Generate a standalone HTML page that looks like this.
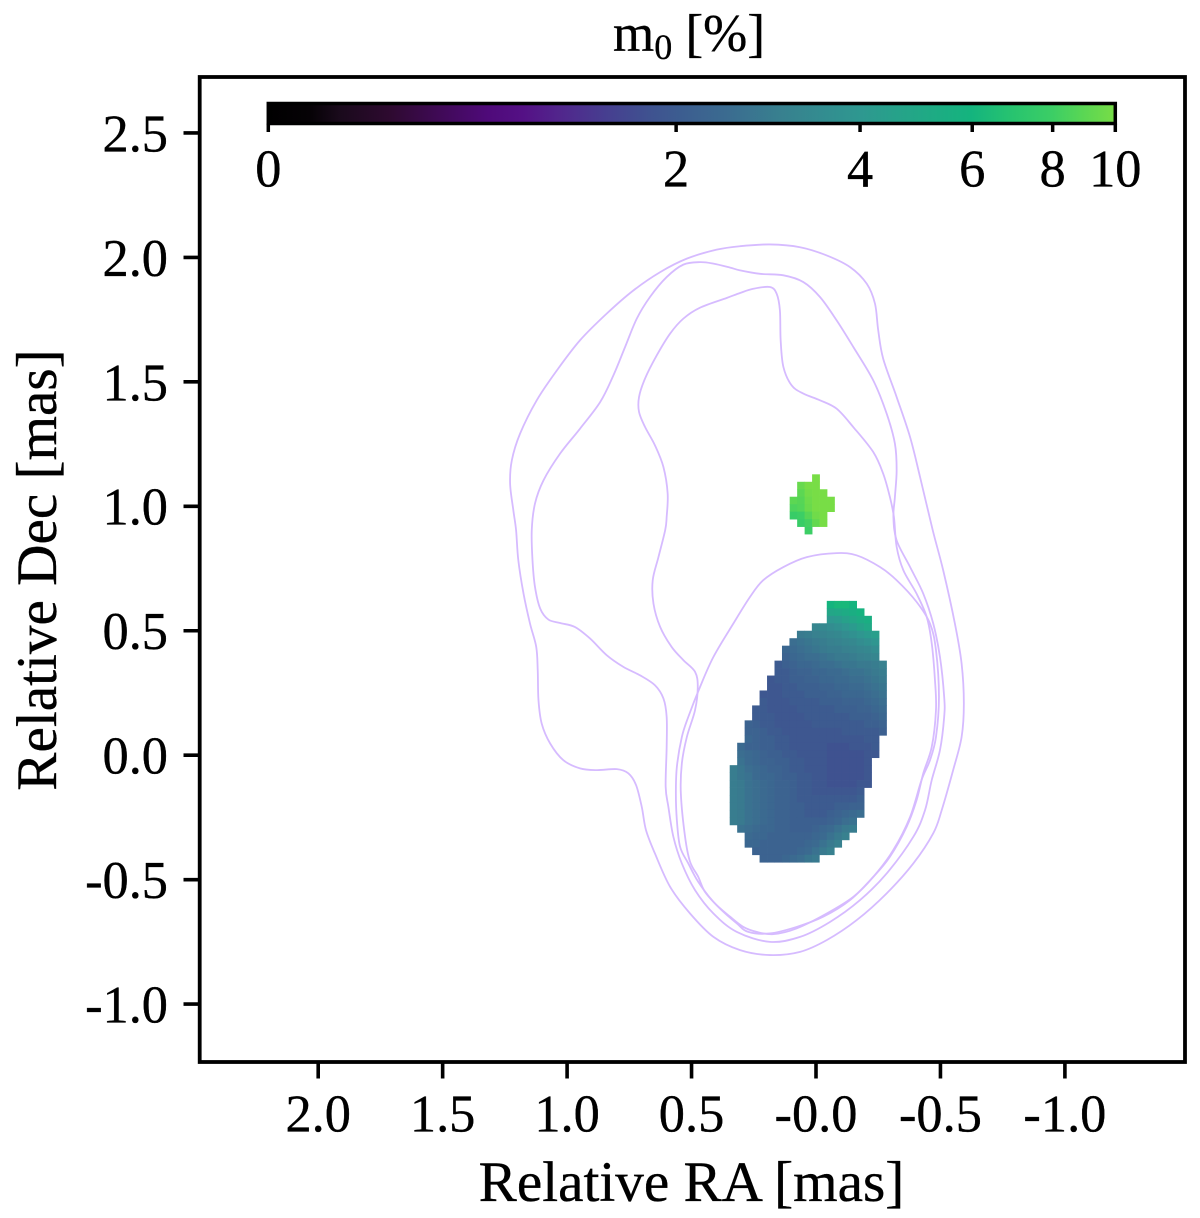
<!DOCTYPE html>
<html lang="en">
<head>
<meta charset="utf-8">
<title>m0 map</title>
<style>
html,body{margin:0;padding:0;background:#fff;}
svg{display:block;font-family:"Liberation Serif","Times New Roman",serif;fill:#000;}
text{stroke:#000;stroke-width:.35;}
</style>
</head>
<body>
<svg id="chart" xmlns="http://www.w3.org/2000/svg" width="1200" height="1218" viewBox="0 0 1200 1218">
  <defs>
    <linearGradient id="cmap-gradient" x1="0" y1="0" x2="1" y2="0"></linearGradient>
  </defs>
  <rect x="0" y="0" width="1200" height="1218" fill="#fff"></rect>
  <g id="heat"></g>
  <g id="contours"></g>
  <g id="axes"></g>
  <g id="cbar"></g>
  <text x="689" y="51" text-anchor="middle" font-size="53">m<tspan font-size="36" dy="8">0</tspan><tspan dy="-8"> [%]</tspan></text>
  <text x="691.5" y="1201" text-anchor="middle" font-size="57.2">Relative RA [mas]</text>
  <text x="0" y="0" transform="translate(56,570) rotate(-90)" text-anchor="middle" font-size="57.2">Relative Dec [mas]</text>
</svg>
<script>
const raTicks = [2, 1.5, 1, 0.5, 0, -0.5, -1];
const raTickLabels = ["2.0", "1.5", "1.0", "0.5", "-0.0", "-0.5", "-1.0"];
const decTicks = [2.5, 2, 1.5, 1, 0.5, 0, -0.5, -1];
const decTickLabels = ["2.5", "2.0", "1.5", "1.0", "0.5", "0.0", "-0.5", "-1.0"];
const colorbarTicks = [0, 2, 4, 6, 8, 10];
const colorbarTickLabels = ["0", "2", "4", "6", "8", "10"];
const cmapFractions = [0, 0.05, 0.085, 0.144, 0.2, 0.26, 0.3, 0.34, 0.4, 0.45, 0.49, 0.54, 0.604, 0.7, 0.76, 0.83, 0.88, 0.926, 0.96, 1];
const cmapColors = ["#000000", "#060206", "#1a0a1c", "#2e0a30", "#3f0a55", "#4f0a7a", "#541085", "#52248c", "#463f90", "#3f5290", "#3c5e90", "#3b6b90", "#38808f", "#2e9890", "#23a687", "#14b47e", "#28c46f", "#3cce65", "#58d655", "#78dd46"];

const _ = null;
const coreGridRa = 0.3467;
const coreGridDec = 0.62;
const gridStep = 0.03;
const coreValues = [
[_,_,_,_,_,_,_,_,_,_,_,_,_,6.0,6.2,6.2,6.0],
[_,_,_,_,_,_,_,_,_,_,_,_,_,4.8,5.0,5.2,5.5,5.8],
[_,_,_,_,_,_,_,_,_,_,_,_,_,4.0,4.2,4.5,4.8,5.2,5.5],
[_,_,_,_,_,_,_,_,_,_,_,3.2,3.3,3.5,3.7,3.9,4.2,4.6,5.0],
[_,_,_,_,_,_,_,_,_,2.8,2.9,3.0,3.1,3.2,3.3,3.5,3.7,3.9,4.2,4.4],
[_,_,_,_,_,_,_,_,2.5,2.6,2.7,2.8,2.9,3.0,3.1,3.2,3.3,3.5,3.7,3.9],
[_,_,_,_,_,_,_,2.3,2.4,2.5,2.6,2.7,2.8,2.9,2.9,3.0,3.1,3.2,3.3,3.5],
[_,_,_,_,_,_,_,2.2,2.3,2.4,2.5,2.5,2.6,2.7,2.8,2.8,2.9,3.0,3.1,3.2],
[_,_,_,_,_,_,2.0,2.1,2.2,2.3,2.3,2.4,2.5,2.5,2.6,2.7,2.7,2.8,2.8,2.9,3.0],
[_,_,_,_,_,_,2.0,2.0,2.1,2.2,2.2,2.3,2.3,2.4,2.4,2.5,2.6,2.6,2.7,2.8,2.9],
[_,_,_,_,_,1.9,2.0,2.0,2.1,2.1,2.2,2.2,2.3,2.3,2.4,2.4,2.5,2.5,2.6,2.7,2.8],
[_,_,_,_,_,1.9,1.9,2.0,2.0,2.1,2.1,2.1,2.2,2.2,2.3,2.3,2.4,2.4,2.5,2.6,2.7],
[_,_,_,_,1.9,1.9,1.9,2.0,2.0,2.0,2.1,2.1,2.1,2.2,2.2,2.3,2.3,2.3,2.4,2.5,2.6],
[_,_,_,_,2.0,1.9,1.9,1.9,2.0,2.0,2.0,2.0,2.1,2.1,2.1,2.2,2.2,2.2,2.3,2.4,2.5],
[_,_,_,2.0,2.0,1.9,1.9,1.9,1.9,2.0,2.0,2.0,2.0,2.0,2.1,2.1,2.1,2.2,2.2,2.3,2.4],
[_,_,_,2.0,2.0,2.0,1.9,1.9,1.9,1.9,2.0,2.0,2.0,2.0,2.0,2.0,2.1,2.1,2.1,2.2,2.3],
[_,_,2.2,2.1,2.0,2.0,1.9,1.9,1.9,1.9,1.9,2.0,2.0,2.0,2.0,2.0,2.0,2.0,2.1,2.1,2.2],
[_,_,2.2,2.2,2.1,2.0,2.0,1.9,1.9,1.9,1.9,1.9,1.9,1.9,1.9,2.0,2.0,2.0,2.0,2.0,2.1],
[_,_,2.3,2.2,2.1,2.1,2.0,2.0,1.9,1.9,1.9,1.9,1.9,1.9,1.9,1.9,1.9,1.9,2.0,2.0],
[_,2.4,2.2,2.2,2.1,2.1,2.0,2.0,1.9,1.9,1.9,1.9,1.9,1.8,1.8,1.8,1.9,1.9,1.9,2.0],
[_,2.5,2.4,2.3,2.2,2.1,2.1,2.0,2.0,1.9,1.9,1.9,1.9,1.8,1.8,1.8,1.8,1.8,1.9,1.9],
[_,2.6,2.4,2.3,2.2,2.2,2.1,2.1,2.0,2.0,1.9,1.9,1.9,1.8,1.8,1.8,1.8,1.8,1.9],
[2.9,2.7,2.5,2.4,2.3,2.2,2.2,2.1,2.0,2.0,1.9,1.9,1.9,1.8,1.8,1.8,1.8,1.8,1.9],
[2.9,2.7,2.6,2.4,2.3,2.3,2.2,2.1,2.1,2.0,2.0,1.9,1.9,1.8,1.8,1.8,1.8,1.8,1.9],
[2.9,2.8,2.6,2.5,2.4,2.3,2.2,2.2,2.1,2.0,2.0,1.9,1.9,1.8,1.8,1.8,1.8,1.9,1.9],
[2.9,2.8,2.6,2.5,2.4,2.3,2.2,2.2,2.1,2.0,2.0,1.9,1.9,1.9,1.9,1.9,1.9,2.0],
[2.9,2.8,2.6,2.5,2.4,2.3,2.2,2.2,2.1,2.0,2.0,2.0,2.0,2.0,2.0,2.0,2.0,2.1],
[2.9,2.8,2.6,2.5,2.4,2.3,2.2,2.2,2.1,2.1,2.0,2.0,2.0,2.0,2.1,2.1,2.2,2.2],
[2.9,2.8,2.6,2.5,2.4,2.3,2.2,2.2,2.1,2.1,2.0,2.0,2.0,2.1,2.2,2.3,2.4,2.5],
[2.9,2.8,2.6,2.5,2.4,2.3,2.2,2.2,2.1,2.1,2.1,2.1,2.1,2.2,2.3,2.5,2.6],
[_,2.6,2.5,2.4,2.3,2.3,2.2,2.2,2.1,2.1,2.1,2.2,2.3,2.4,2.6,2.8,2.9],
[_,_,2.4,2.3,2.3,2.2,2.2,2.2,2.2,2.2,2.2,2.3,2.4,2.6,2.8,3.0],
[_,_,2.3,2.3,2.2,2.2,2.2,2.2,2.2,2.2,2.3,2.4,2.6,2.8,3.0],
[_,_,_,2.2,2.2,2.2,2.2,2.2,2.2,2.3,2.4,2.6,2.8,3.0],
[_,_,_,_,2.2,2.2,2.2,2.3,2.4,2.5,2.7,2.8]
];

const knotGridRa = 0.1057;
const knotGridDec = 1.1285;
const knotValues = [
[_,_,_,10],
[_,9.4,10,10],
[_,9.0,9.8,10,10],
[9.0,8.8,9.6,10,10,10],
[8.5,8.7,9.5,10,10,10],
[7.8,8.0,8.8,9.7,10],
[_,7.8,8.2,9.2,10],
[_,_,8.0]
];

const contourOuter = [[.185,2.052],[.305,2.045],[.399,2.031],[.519,1.995],[.626,1.941],[.734,1.867],[.841,1.774],[.948,1.667],[1.041,1.546],[1.122,1.426],[1.189,1.292],[1.222,1.185],[1.229,1.091],[1.216,.984],[1.205,.904],[1.196,.783],[1.175,.649],[1.149,.529],[1.124,.435],[1.118,.341],[1.115,.221],[1.102,.127],[1.068,.047],[1.015,-.020],[.948,-.053],[.881,-.060],[.800,-.056],[.754,-.073],[.723,-.120],[.700,-.208],[.683,-.301],[.647,-.395],[.586,-.529],[.506,-.636],[.412,-.730],[.305,-.783],[.185,-.803],[.064,-.790],[-.043,-.743],[-.163,-.663],[-.284,-.555],[-.391,-.435],[-.471,-.314],[-.505,-.221],[-.551,-.060],[-.585,.073],[-.594,.208],[-.585,.368],[-.558,.529],[-.511,.743],[-.469,.904],[-.418,1.118],[-.378,1.278],[-.324,1.439],[-.270,1.593],[-.250,1.707],[-.237,1.814],[-.204,1.894],[-.137,1.961],[-.043,2.008],[.064,2.041]];
const contourMiddle = [[.466,1.981],[.533,1.971],[.600,1.921],[.667,1.841],[.720,1.754],[.767,1.640],[.814,1.526],[.867,1.419],[.948,1.312],[1.028,1.212],[1.095,1.104],[1.129,1.011],[1.142,.904],[1.139,.783],[1.129,.676],[1.108,.589],[1.075,.545],[1.028,.531],[.968,.515],[.908,.469],[.841,.402],[.774,.355],[.707,.321],[.647,.281],[.613,.228],[.600,.154],[.600,.033],[.604,-.127],[.593,-.208],[.573,-.328],[.539,-.435],[.486,-.542],[.412,-.636],[.318,-.710],[.185,-.750],[.064,-.730],[-.056,-.670],[-.177,-.582],[-.284,-.475],[-.391,-.328],[-.438,-.221],[-.465,-.100],[-.498,.020],[-.515,.154],[-.515,.234],[-.498,.395],[-.471,.529],[-.431,.649],[-.378,.756],[-.324,.863],[-.311,.957],[-.317,1.037],[-.324,1.145],[-.317,1.252],[-.284,1.372],[-.230,1.506],[-.150,1.640],[-.083,1.747],[-.016,1.841],[.051,1.901],[.131,1.928],[.225,1.934],[.305,1.948],[.345,1.959],[.412,1.975]];
const contourInner = [[.185,1.881],[.252,1.874],[.305,1.857],[.359,1.837],[.466,1.798],[.533,1.754],[.586,1.694],[.640,1.606],[.687,1.513],[.711,1.439],[.711,1.379],[.687,1.319],[.647,1.245],[.613,1.158],[.596,1.051],[.600,.957],[.606,.904],[.633,.796],[.656,.703],[.653,.609],[.626,.515],[.580,.435],[.533,.382],[.486,.335],[.475,.274],[.486,.181],[.519,.073],[.539,-.033],[.543,-.154],[.526,-.328],[.506,-.428],[.473,-.489],[.446,-.549],[.386,-.616],[.318,-.676],[.272,-.710],[.185,-.716],[.078,-.690],[-.029,-.649],[-.137,-.582],[-.230,-.489],[-.297,-.408],[-.364,-.288],[-.404,-.181],[-.431,-.073],[-.465,.033],[-.482,.181],[-.478,.301],[-.465,.449],[-.445,.555],[-.404,.649],[-.351,.743],[-.324,.837],[-.313,.957],[-.297,1.037],[-.270,1.131],[-.230,1.218],[-.150,1.318],[-.083,1.392],[-.016,1.426],[.051,1.453],[.098,1.486],[.131,1.560],[.142,1.667],[.145,1.787],[.158,1.854]];
const contourCore = [[-.083,.812],[.037,.796],[.131,.756],[.212,.703],[.265,.636],[.332,.529],[.412,.395],[.466,.274],[.513,.154],[.539,.073],[.559,-.047],[.563,-.154],[.559,-.261],[.546,-.368],[.513,-.435],[.473,-.509],[.412,-.589],[.345,-.649],[.292,-.690],[.238,-.710],[.171,-.719],[.078,-.696],[-.043,-.636],[-.150,-.569],[-.230,-.489],[-.310,-.382],[-.378,-.248],[-.424,-.100],[-.458,-.020],[-.482,.073],[-.494,.234],[-.482,.422],[-.458,.529],[-.404,.616],[-.324,.703],[-.257,.756],[-.163,.803]];

const NS = "http://www.w3.org/2000/svg";
const frameLeft = 199.7, frameRight = 1185, frameTop = 77, frameBottom = 1062;
const pxPerMas = 248.9;
const barLeft = 268.3, barRight = 1115.3, barTop = 103.5, barBottom = 123.5;

function xScale(ra) { return 816 - ra * pxPerMas; }
function yScale(dec) { return 755.2 - dec * pxPerMas; }
function normFraction(v) { return Math.asinh(Math.max(v, 0)) / Math.asinh(10); }
function barScale(v) { return barLeft + normFraction(v) * (barRight - barLeft); }

function hexToRgb(h) {
  return [parseInt(h.slice(1, 3), 16), parseInt(h.slice(3, 5), 16), parseInt(h.slice(5, 7), 16)];
}
function colorFor(v) {
  const f = Math.min(1, Math.max(0, normFraction(v)));
  let i = 0;
  while (i < cmapFractions.length - 2 && f > cmapFractions[i + 1]) i++;
  const t = (f - cmapFractions[i]) / (cmapFractions[i + 1] - cmapFractions[i]);
  const a = hexToRgb(cmapColors[i]), b = hexToRgb(cmapColors[i + 1]);
  return "rgb(" + a.map(function (c, k) { return Math.round(c + (b[k] - c) * t); }).join(",") + ")";
}
function make(parent, tag, attrs, text) {
  const el = document.createElementNS(NS, tag);
  Object.keys(attrs).forEach(function (k) { el.setAttribute(k, attrs[k]); });
  if (text !== undefined) el.textContent = text;
  parent.appendChild(el);
  return el;
}

/* heatmap */
const heat = document.getElementById("heat");
function drawGrid(values, ra0, dec0, label) {
  values.forEach(function (row, r) {
    row.forEach(function (v, c) {
      if (v === null || v === undefined) return;
      const x0 = xScale(ra0 - c * gridStep);
      const x1 = xScale(ra0 - (c + 1) * gridStep);
      const y0 = yScale(dec0 - r * gridStep);
      const y1 = yScale(dec0 - (r + 1) * gridStep);
      const cell = make(heat, "rect", {
        x: x0.toFixed(2), y: y0.toFixed(2),
        width: (x1 - x0 + 0.35).toFixed(2), height: (y1 - y0 + 0.35).toFixed(2),
        fill: colorFor(v)
      });
      
      
    });
  });
}
drawGrid(coreValues, coreGridRa, coreGridDec, "core-heatmap-cell");
drawGrid(knotValues, knotGridRa, knotGridDec, "knot-heatmap-cell");

/* contours */
const contourGroup = document.getElementById("contours");
function closedSmoothPath(points) {
  const p = points.map(function (d) { return [xScale(d[0]), yScale(d[1])]; });
  const n = p.length;
  let s = "M" + p[0][0].toFixed(2) + " " + p[0][1].toFixed(2);
  for (let i = 0; i < n; i++) {
    const a = p[(i - 1 + n) % n], b = p[i], c = p[(i + 1) % n], d = p[(i + 2) % n];
    s += "C" + (b[0] + (c[0] - a[0]) / 6).toFixed(2) + " " + (b[1] + (c[1] - a[1]) / 6).toFixed(2) +
      " " + (c[0] - (d[0] - b[0]) / 6).toFixed(2) + " " + (c[1] - (d[1] - b[1]) / 6).toFixed(2) +
      " " + c[0].toFixed(2) + " " + c[1].toFixed(2);
  }
  return s + "Z";
}
function drawContour(points, label) {
  const path = make(contourGroup, "path", {
    d: closedSmoothPath(points), fill: "none", stroke: "#d6bbff", "stroke-width": "1.8"
  });
  
  
}
drawContour(contourOuter, "contour-outer");
drawContour(contourMiddle, "contour-middle");
drawContour(contourInner, "contour-inner");
drawContour(contourCore, "contour-core");

/* axes */
const axes = document.getElementById("axes");
const frame = make(axes, "rect", {
  x: frameLeft, y: frameTop, width: frameRight - frameLeft, height: frameBottom - frameTop,
  fill: "none", stroke: "#000", "stroke-width": "3.8"
});



raTicks.forEach(function (t, i) {
  const x = xScale(t);
  const tick = make(axes, "line", { x1: x, x2: x, y1: frameBottom, y2: 1078.5, stroke: "#000", "stroke-width": "3.6" });
  
  
  const label = make(axes, "text", { x: x, y: 1131.5, "text-anchor": "middle", "font-size": "52.4" }, raTickLabels[i]);
  
  
});
decTicks.forEach(function (t, i) {
  const y = yScale(t);
  const tick = make(axes, "line", { x1: 183.5, x2: frameLeft, y1: y, y2: y, stroke: "#000", "stroke-width": "3.6" });
  
  
  const label = make(axes, "text", { x: 168, y: y + 18.4, "text-anchor": "end", "font-size": "52.4" }, decTickLabels[i]);
  
  
});

/* colorbar */
const gradient = document.getElementById("cmap-gradient");
cmapFractions.forEach(function (f, i) {
  make(gradient, "stop", { offset: f, "stop-color": cmapColors[i] });
});
const cbar = document.getElementById("cbar");
const barFill = make(cbar, "rect", {
  x: barLeft, y: barTop, width: barRight - barLeft, height: barBottom - barTop,
  fill: "url(#cmap-gradient)", stroke: "#000", "stroke-width": "3.5"
});


colorbarTicks.forEach(function (t, i) {
  const x = barScale(t);
  const tick = make(cbar, "line", { x1: x, x2: x, y1: barBottom, y2: 132, stroke: "#000", "stroke-width": "3.5" });
  
  
  const label = make(cbar, "text", { x: x, y: 186.5, "text-anchor": "middle", "font-size": "52.4" }, colorbarTickLabels[i]);
  
  
});
</script>
</body>
</html>
